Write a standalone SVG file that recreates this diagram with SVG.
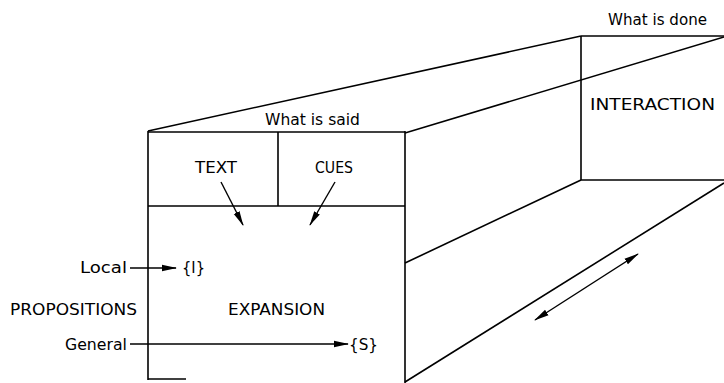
<svg xmlns="http://www.w3.org/2000/svg" width="724" height="383" viewBox="0 0 724 383">
<defs>
<style>
.ln{stroke:#000;stroke-width:1.6;fill:none}
.ar{stroke:#000;stroke-width:1.4;fill:none}
text{font-family:"DejaVu Sans","Liberation Sans",sans-serif;font-size:15.5px;fill:#000}
</style>
<marker id="ah" markerWidth="15" markerHeight="8" refX="14" refY="4" orient="auto" markerUnits="userSpaceOnUse">
<path d="M0,0.8 L15,4 L0,7.2 Z" fill="#000"/>
</marker>
<marker id="ahs" markerWidth="15" markerHeight="8" refX="1" refY="4" orient="auto" markerUnits="userSpaceOnUse">
<path d="M15,0.8 L0,4 L15,7.2 Z" fill="#000"/>
</marker>
</defs>
<rect width="724" height="383" fill="#fff"/>
<g id="box">
<line class="ln" x1="148" y1="132" x2="405" y2="132"/>
<line class="ln" x1="148" y1="131" x2="148" y2="380"/>
<line class="ln" x1="148" y1="379" x2="186" y2="379"/>
<line class="ln" x1="405" y1="131" x2="405" y2="383"/>
<line class="ln" x1="148" y1="206" x2="405" y2="206"/>
<line class="ln" x1="278" y1="132" x2="278" y2="206"/>
<line class="ln" x1="148" y1="131" x2="581" y2="36"/>
<line class="ln" x1="581" y1="36" x2="724" y2="36"/>
<line class="ln" x1="405" y1="133" x2="724" y2="37"/>
<line class="ln" x1="581" y1="36" x2="581" y2="180"/>
<line class="ln" x1="581" y1="180" x2="724" y2="180"/>
<line class="ln" x1="405" y1="263" x2="581" y2="180"/>
<line class="ln" x1="405" y1="382" x2="724" y2="183"/>
</g>
<g id="labels">
<text x="265" y="125" textLength="95" lengthAdjust="spacingAndGlyphs">What is said</text>
<text x="195" y="173" textLength="42" lengthAdjust="spacingAndGlyphs">TEXT</text>
<text x="315" y="173" textLength="38" lengthAdjust="spacingAndGlyphs">CUES</text>
<text x="608" y="25" textLength="99" lengthAdjust="spacingAndGlyphs">What is done</text>
<text x="590" y="110" textLength="125" lengthAdjust="spacingAndGlyphs">INTERACTION</text>
<text x="80" y="273" textLength="47" lengthAdjust="spacingAndGlyphs">Local</text>
<text x="182" y="273" textLength="23" lengthAdjust="spacingAndGlyphs">{I}</text>
<text x="10" y="315" textLength="127" lengthAdjust="spacingAndGlyphs">PROPOSITIONS</text>
<text x="228" y="315" textLength="97" lengthAdjust="spacingAndGlyphs">EXPANSION</text>
<text x="65" y="350" textLength="62" lengthAdjust="spacingAndGlyphs">General</text>
<text x="349" y="350" textLength="29" lengthAdjust="spacingAndGlyphs">{S}</text>
</g>
<g id="connectors">
<line class="ar" x1="221" y1="182" x2="243" y2="225" marker-end="url(#ah)"/>
<line class="ar" x1="335" y1="182" x2="310" y2="225" marker-end="url(#ah)"/>
<line class="ar" x1="130" y1="268" x2="176" y2="268" marker-end="url(#ah)"/>
<line class="ar" x1="130" y1="344" x2="348" y2="344" marker-end="url(#ah)"/>
<line class="ar" x1="535" y1="320" x2="638" y2="254" marker-start="url(#ahs)" marker-end="url(#ah)"/>
</g>
</svg>
